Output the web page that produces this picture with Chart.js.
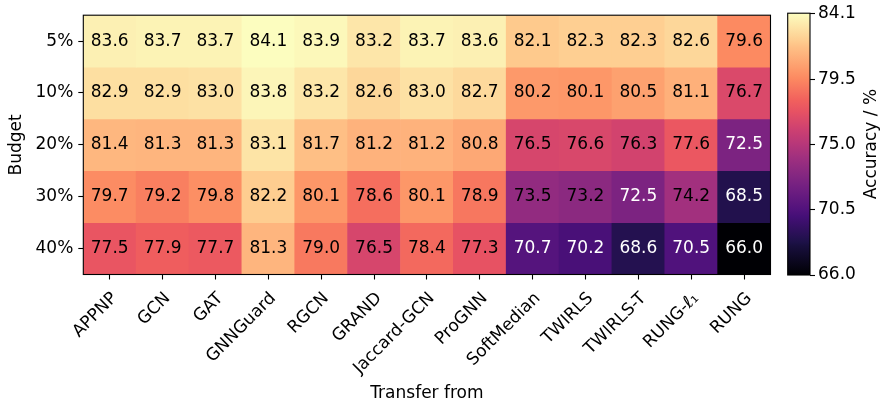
<!DOCTYPE html>
<html>
<head>
<meta charset="utf-8">
<script src="https://cdn.jsdelivr.net/npm/chart.js@4.4.1/dist/chart.umd.min.js"></script>
<style>
  html, body { margin: 0; padding: 0; background: #fff; }
  #wrap { position: relative; width: 884px; height: 404px; }
  #wrap canvas { position: absolute; left: 0; top: 0; }
</style>
</head>
<body>
<div id="wrap">
  <canvas id="heat" width="884" height="404"></canvas>
  <canvas id="cbar" width="884" height="404"></canvas>
</div>
<script>
// Models the perturbations were transferred from (columns)
const models = ['APPNP', 'GCN', 'GAT', 'GNNGuard', 'RGCN', 'GRAND', 'Jaccard-GCN',
                'ProGNN', 'SoftMedian', 'TWIRLS', 'TWIRLS-T', 'RUNG-\u2113\u2081', 'RUNG'];
// Attack budgets (rows)
const budgets = ['5%', '10%', '20%', '30%', '40%'];

// Accuracy (%) per budget row
const acc5  = [83.6, 83.7, 83.7, 84.1, 83.9, 83.2, 83.7, 83.6, 82.1, 82.3, 82.3, 82.6, 79.6];
const acc10 = [82.9, 82.9, 83.0, 83.8, 83.2, 82.6, 83.0, 82.7, 80.2, 80.1, 80.5, 81.1, 76.7];
const acc20 = [81.4, 81.3, 81.3, 83.1, 81.7, 81.2, 81.2, 80.8, 76.5, 76.6, 76.3, 77.6, 72.5];
const acc30 = [79.7, 79.2, 79.8, 82.2, 80.1, 78.6, 80.1, 78.9, 73.5, 73.2, 72.5, 74.2, 68.5];
const acc40 = [77.5, 77.9, 77.7, 81.3, 79.0, 76.5, 78.4, 77.3, 70.7, 70.2, 68.6, 70.5, 66.0];
const accRows = [acc5, acc10, acc20, acc30, acc40];

// Colorbar tick labels
const colorbarTicks = [66.0, 70.5, 75.0, 79.5, 84.1];
const colorbarLabel = 'Accuracy / %';

const allValues = accRows.flat();
const vmin = Math.min(...allValues);
const vmax = Math.max(...allValues);

// Magma colormap control points
const magma = [
  [0.0000, '#000004'], [0.1111, '#180f3d'], [0.1250, '#1d1147'], [0.2222, '#440f76'],
  [0.2500, '#51127c'], [0.3333, '#721f81'], [0.3750, '#822681'], [0.4444, '#9e2f7f'],
  [0.5000, '#b73779'], [0.5556, '#cd4071'], [0.6250, '#e75263'], [0.6667, '#f1605d'],
  [0.7500, '#fc8961'], [0.7778, '#fd9668'], [0.8750, '#fec287'], [0.8889, '#feca8d'],
  [1.0000, '#fcfdbf']
];
function hexToRgb(h) {
  return [parseInt(h.slice(1, 3), 16), parseInt(h.slice(3, 5), 16), parseInt(h.slice(5, 7), 16)];
}
function magmaColor(t) {
  t = Math.max(0, Math.min(1, t));
  for (let i = 1; i < magma.length; i++) {
    if (t <= magma[i][0]) {
      const [t0, c0] = magma[i - 1];
      const [t1, c1] = magma[i];
      const f = (t - t0) / (t1 - t0);
      const a = hexToRgb(c0), b = hexToRgb(c1);
      const c = a.map((v, k) => Math.round(v + (b[k] - v) * f));
      return `rgb(${c[0]},${c[1]},${c[2]})`;
    }
  }
  return magma[magma.length - 1][1];
}
const norm = v => (v - vmin) / (vmax - vmin);

const FONT = { family: '"DejaVu Sans", sans-serif', size: 17 };
const fontStr = `${FONT.size}px ${FONT.family}`;

// Black frame around the plotting area
const framePlugin = {
  id: 'frame',
  afterDraw(chart) {
    const { ctx, chartArea: a } = chart;
    ctx.save();
    ctx.strokeStyle = '#000';
    ctx.lineWidth = 1.1;
    ctx.strokeRect(a.left, a.top, a.right - a.left, a.bottom - a.top);
    ctx.restore();
  }
};

// Value annotation centred in each cell
const cellLabelPlugin = {
  id: 'cellLabels',
  afterDatasetsDraw(chart) {
    const ctx = chart.ctx;
    ctx.save();
    ctx.font = fontStr;
    ctx.textAlign = 'center';
    ctx.textBaseline = 'middle';
    chart.data.datasets.forEach((ds, di) => {
      const meta = chart.getDatasetMeta(di);
      meta.data.forEach((bar, i) => {
        const v = accRows[di][i];
        ctx.fillStyle = norm(v) < 0.39 ? '#ffffff' : '#000000';
        ctx.fillText(v.toFixed(1), bar.x, (bar.y + bar.base) / 2);
      });
    });
    ctx.restore();
  }
};

// Colorbar label, reading bottom to top on the right of the ticks
const cbarTitlePlugin = {
  id: 'cbarTitle',
  afterDraw(chart) {
    const { ctx, chartArea: a } = chart;
    ctx.save();
    ctx.font = fontStr;
    ctx.fillStyle = '#000';
    ctx.textAlign = 'center';
    ctx.textBaseline = 'middle';
    ctx.translate(871.5, (a.top + a.bottom) / 2);
    ctx.rotate(-Math.PI / 2);
    ctx.fillText(colorbarLabel, 0, 0);
    ctx.restore();
  }
};

const tickGrid = {
  display: true,
  drawOnChartArea: false,
  drawTicks: true,
  tickLength: 5,
  tickColor: '#000',
  tickWidth: 1.1
};

new Chart(document.getElementById('heat'), {
  type: 'bar',
  data: {
    labels: models,
    datasets: accRows.map((row, r) => ({
      label: budgets[r],
      data: row.map(() => [r, r + 1]),
      backgroundColor: row.map(v => magmaColor(norm(v))),
      borderWidth: 0,
      barPercentage: 1,
      categoryPercentage: 1,
      grouped: false
    }))
  },
  options: {
    responsive: false,
    animation: false,
    devicePixelRatio: 1,
    layout: { padding: { left: 0, top: 10, right: 113.5, bottom: 0 } },
    plugins: { legend: { display: false }, tooltip: { enabled: false } },
    scales: {
      x: {
        type: 'category',
        grid: Object.assign({ offset: false }, tickGrid),
        border: { display: false },
        ticks: {
          color: '#000', font: FONT, autoSkip: false,
          maxRotation: 45, minRotation: 45, padding: 9, labelOffset: 5
        },
        title: { display: true, text: 'Transfer from', color: '#000', font: FONT, padding: { top: 0, bottom: 0 } },
        afterFit(scale) { scale.height = 129.5; }
      },
      y: {
        type: 'linear',
        min: 0, max: budgets.length,
        reverse: true,
        grid: tickGrid,
        border: { display: false },
        afterBuildTicks(scale) { scale.ticks = budgets.map((b, i) => ({ value: i + 0.5 })); },
        ticks: {
          color: '#000', font: FONT, padding: 5,
          callback: (v, i) => budgets[i]
        },
        title: { display: true, text: 'Budget', color: '#000', font: FONT, padding: { top: 6, bottom: 0 } },
        afterFit(scale) { scale.width = 83.3; }
      }
    }
  },
  plugins: [cellLabelPlugin, framePlugin]
});

// Colorbar
new Chart(document.getElementById('cbar'), {
  type: 'bar',
  data: {
    labels: [''],
    datasets: [{
      data: [[vmin, vmax]],
      borderWidth: 0,
      barPercentage: 1,
      categoryPercentage: 1,
      backgroundColor(context) {
        const a = context.chart.chartArea;
        if (!a) return '#000';
        const g = context.chart.ctx.createLinearGradient(0, a.bottom, 0, a.top);
        magma.forEach(([t, c]) => g.addColorStop(t, c));
        return g;
      }
    }]
  },
  options: {
    responsive: false,
    animation: false,
    devicePixelRatio: 1,
    layout: { padding: { left: 787.7, top: 10, right: 0, bottom: 129 } },
    plugins: { legend: { display: false }, tooltip: { enabled: false } },
    scales: {
      x: { display: false },
      y: {
        type: 'linear',
        position: 'right',
        min: vmin, max: vmax,
        grid: tickGrid,
        border: { display: false },
        afterBuildTicks(scale) { scale.ticks = colorbarTicks.map(v => ({ value: v })); },
        ticks: { color: '#000', font: FONT, padding: 3, callback: v => v.toFixed(1) },
        afterFit(scale) { scale.width = 884 - 810; }
      }
    }
  },
  plugins: [framePlugin, cbarTitlePlugin]
});
</script>
</body>
</html>
